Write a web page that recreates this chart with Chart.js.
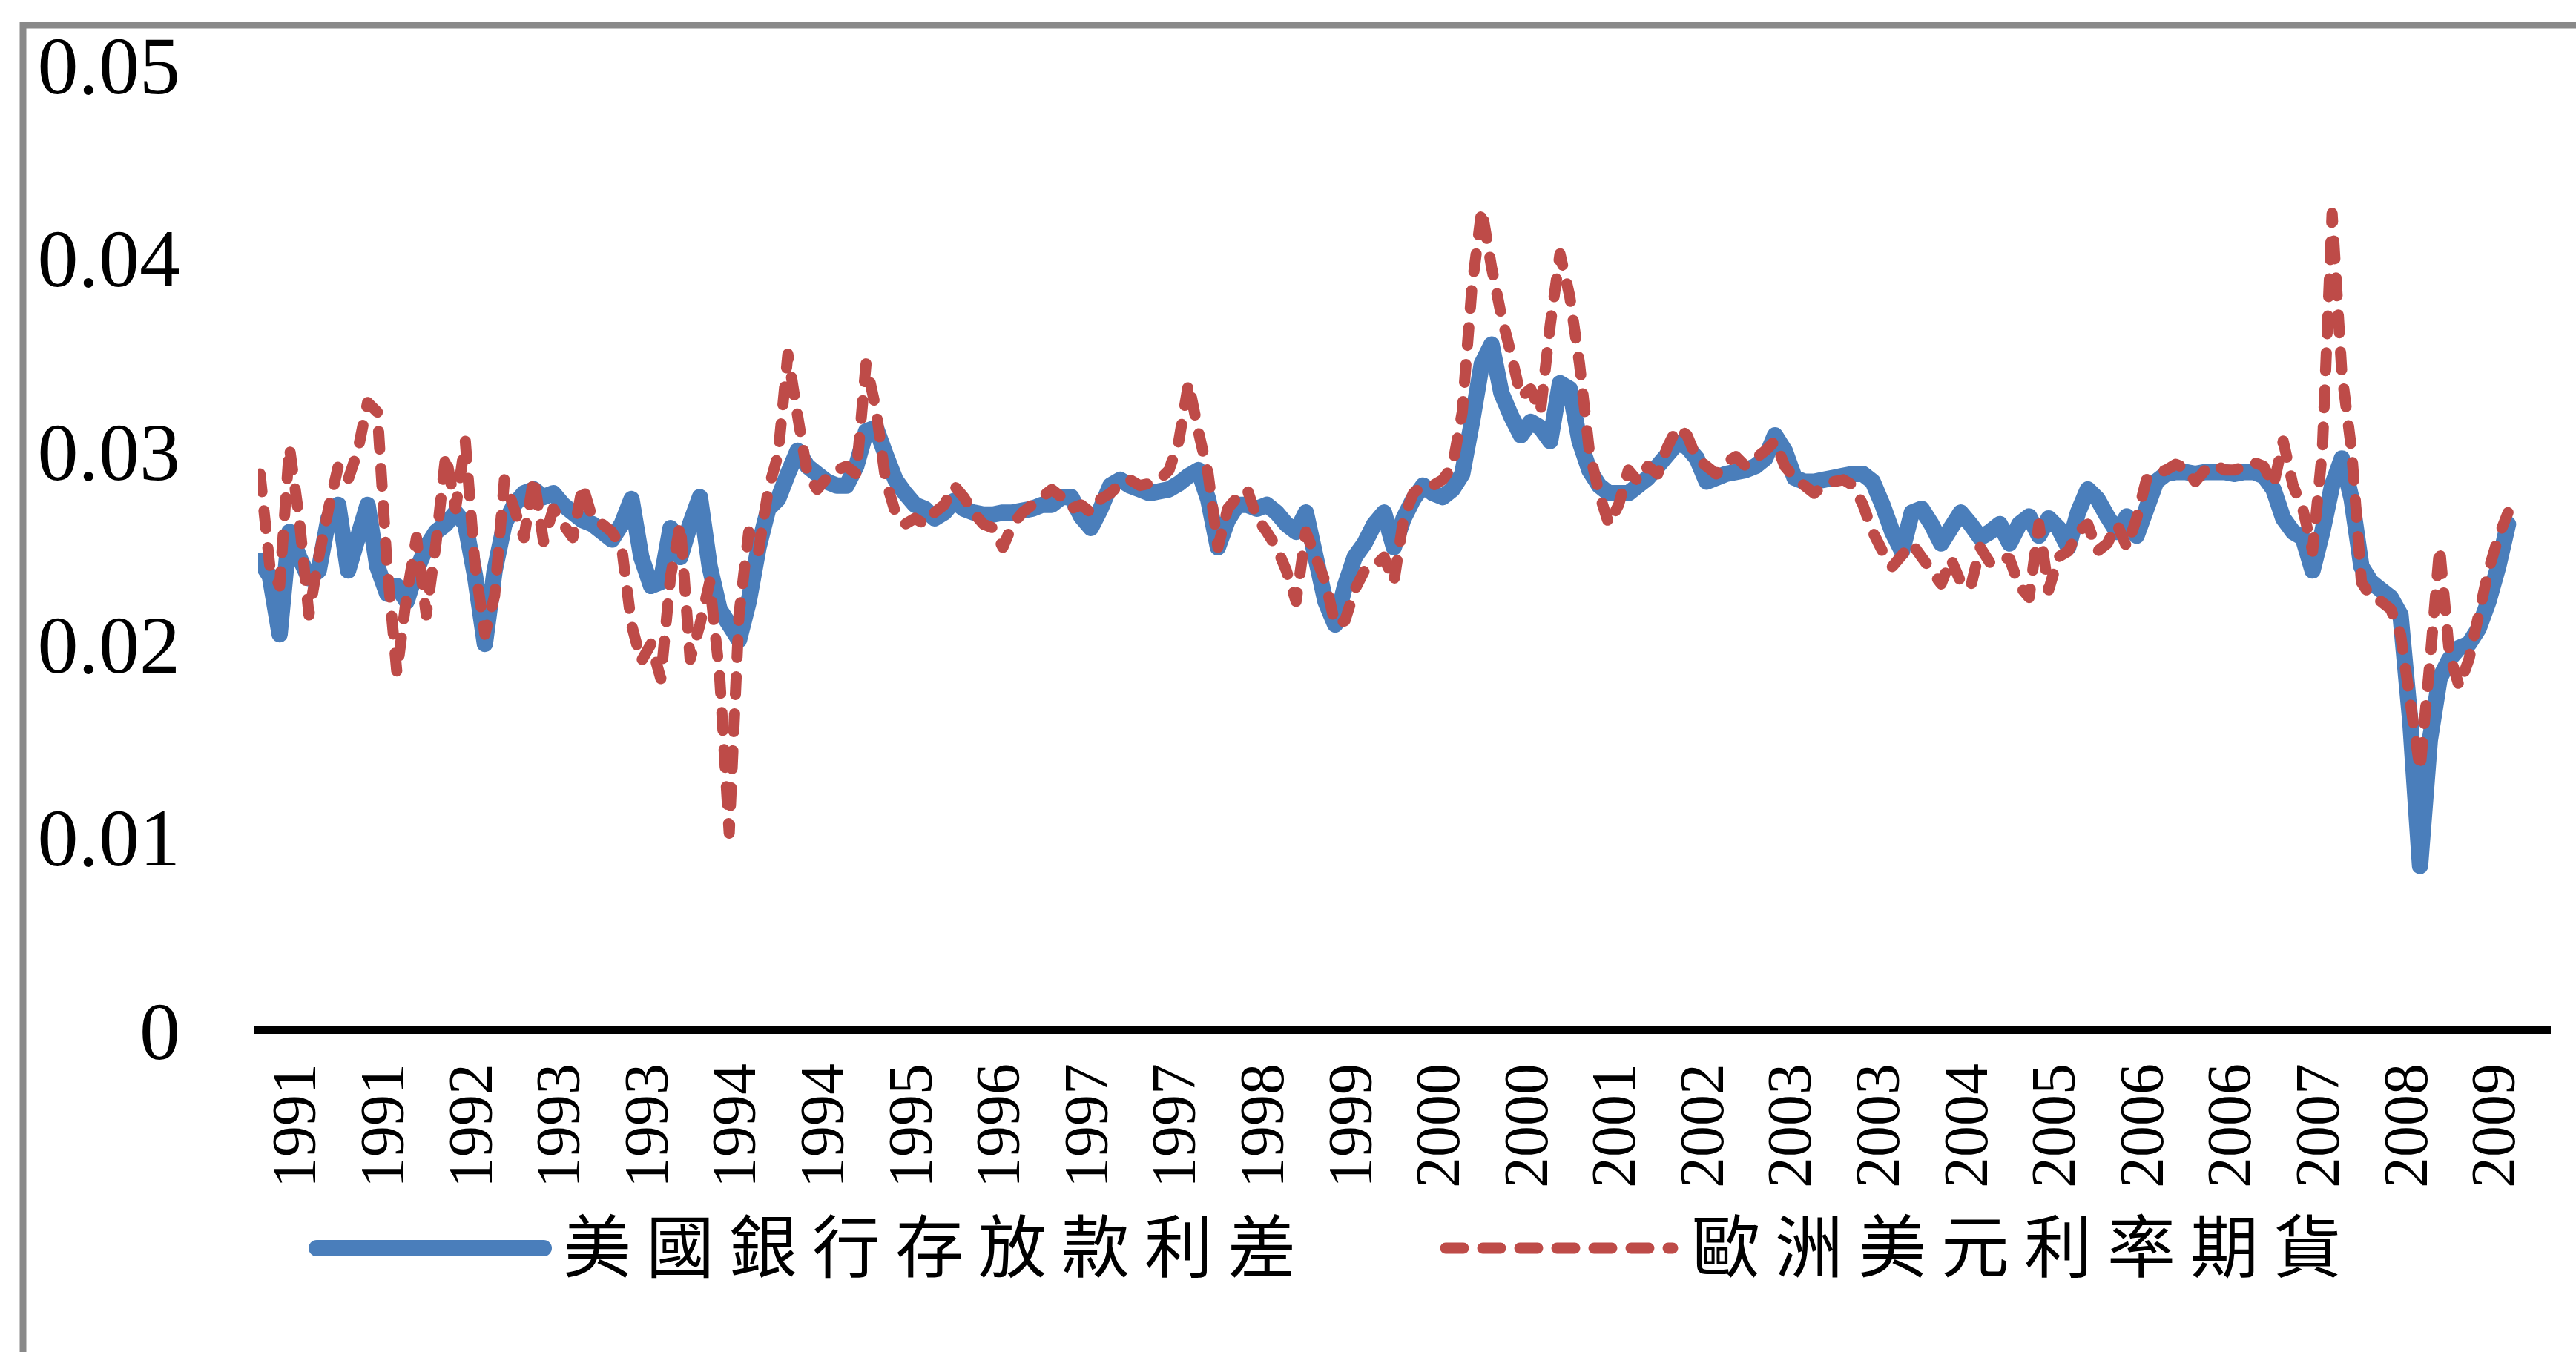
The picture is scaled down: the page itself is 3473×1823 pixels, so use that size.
<!DOCTYPE html>
<html>
<head>
<meta charset="utf-8">
<script src="https://cdn.jsdelivr.net/npm/chart.js@4.4.1/dist/chart.umd.min.js"></script>
<style>
  html, body { margin: 0; padding: 0; background: #fff; overflow: hidden; }
  canvas { display: block; }
</style>
</head>
<body>
<canvas id="spreadChart" width="3473" height="1823"></canvas>
<script>
// ─── DATA ────────────────────────────────────────────────
const seriesNames = ['美國銀行存放款利差', '歐洲美元利率期貨'];

// monthly, 1991 – mid 2009
const spreadValues = [
  0.0243,0.0235,0.0205,0.0258,0.0245,0.0234,0.0238,0.0265,0.0272,0.0238,
  0.0255,0.0272,0.0240,0.0226,0.0230,0.0222,0.0238,0.0250,0.0258,0.0262,
  0.0268,0.0262,0.0235,0.0200,0.0238,0.0262,0.0272,0.0278,0.0280,0.0276,
  0.0278,0.0272,0.0268,0.0264,0.0262,0.0258,0.0254,0.0262,0.0275,0.0245,
  0.0230,0.0232,0.0260,0.0245,0.0262,0.0276,0.0240,0.0218,0.0210,0.0202,
  0.0222,0.0250,0.0270,0.0275,0.0288,0.0300,0.0292,0.0288,0.0284,0.0282,
  0.0282,0.0292,0.0310,0.0312,0.0298,0.0285,0.0278,0.0272,0.0270,0.0265,
  0.0268,0.0274,0.0270,0.0268,0.0267,0.0267,0.0268,0.0268,0.0269,0.0270,
  0.0272,0.0272,0.0276,0.0276,0.0266,0.0260,0.0270,0.0282,0.0285,0.0282,
  0.0280,0.0278,0.0279,0.0280,0.0283,0.0287,0.0290,0.0275,0.0250,0.0264,
  0.0272,0.0272,0.0270,0.0272,0.0268,0.0262,0.0258,0.0268,0.0245,0.0222,
  0.0210,0.0230,0.0245,0.0252,0.0262,0.0268,0.0250,0.0265,0.0275,0.0282,
  0.0278,0.0276,0.0280,0.0288,0.0315,0.0345,0.0355,0.0330,0.0318,0.0308,
  0.0315,0.0312,0.0305,0.0335,0.0332,0.0305,0.0290,0.0282,0.0278,0.0278,
  0.0278,0.0282,0.0286,0.0292,0.0298,0.0304,0.0302,0.0296,0.0284,0.0286,
  0.0288,0.0289,0.0290,0.0292,0.0296,0.0308,0.0300,0.0286,0.0284,0.0284,
  0.0285,0.0286,0.0287,0.0288,0.0288,0.0284,0.0272,0.0258,0.0248,0.0268,
  0.0270,0.0262,0.0252,0.0260,0.0268,0.0262,0.0255,0.0258,0.0262,0.0252,
  0.0262,0.0266,0.0256,0.0265,0.0260,0.0250,0.0268,0.0280,0.0275,0.0266,
  0.0258,0.0266,0.0256,0.0270,0.0284,0.0288,0.0289,0.0289,0.0288,0.0289,
  0.0289,0.0289,0.0288,0.0289,0.0289,0.0287,0.0280,0.0265,0.0258,0.0255,
  0.0238,0.0258,0.0282,0.0296,0.0275,0.0240,0.0232,0.0228,0.0224,0.0215,
  0.0160,0.0085,0.0150,0.0182,0.0192,0.0198,0.0200,0.0208,0.0222,0.0240,
  0.0262
];

const futuresValues = [
  0.0288,0.0240,0.0230,0.0302,0.0265,0.0215,0.0245,0.0270,0.0292,0.0285,
  0.0300,0.0325,0.0320,0.0240,0.0185,0.0225,0.0255,0.0215,0.0252,0.0298,
  0.0270,0.0305,0.0240,0.0205,0.0225,0.0285,0.0270,0.0255,0.0286,0.0253,
  0.0270,0.0262,0.0255,0.0282,0.0265,0.0262,0.0258,0.0250,0.0210,0.0191,
  0.0200,0.0182,0.0235,0.0262,0.0192,0.0210,0.0232,0.0185,0.0102,0.0215,
  0.0258,0.0248,0.0280,0.0298,0.0350,0.0318,0.0288,0.0280,0.0286,0.0290,
  0.0292,0.0288,0.0345,0.0322,0.0285,0.0268,0.0262,0.0265,0.0262,0.0268,
  0.0272,0.0282,0.0276,0.0268,0.0262,0.0260,0.0250,0.0262,0.0268,0.0272,
  0.0276,0.0280,0.0276,0.0270,0.0272,0.0268,0.0275,0.0278,0.0283,0.0285,
  0.0282,0.0283,0.0285,0.0290,0.0305,0.0335,0.0310,0.0288,0.0250,0.0270,
  0.0276,0.0280,0.0265,0.0258,0.0250,0.0238,0.0222,0.0258,0.0245,0.0232,
  0.0210,0.0212,0.0228,0.0238,0.0240,0.0245,0.0232,0.0265,0.0278,0.0282,
  0.0282,0.0285,0.0292,0.0320,0.0385,0.0425,0.0395,0.0370,0.0350,0.0328,
  0.0332,0.0320,0.0365,0.0402,0.0380,0.0345,0.0300,0.0278,0.0262,0.0272,
  0.0290,0.0284,0.0292,0.0288,0.0302,0.0312,0.0308,0.0296,0.0292,0.0288,
  0.0294,0.0297,0.0292,0.0296,0.0300,0.0305,0.0292,0.0286,0.0282,0.0278,
  0.0282,0.0284,0.0285,0.0282,0.0272,0.0258,0.0248,0.0240,0.0246,0.0252,
  0.0245,0.0238,0.0231,0.0244,0.0232,0.0229,0.0250,0.0242,0.0245,0.0244,
  0.0230,0.0224,0.0262,0.0228,0.0245,0.0248,0.0258,0.0262,0.0248,0.0252,
  0.0262,0.0250,0.0265,0.0285,0.0288,0.0290,0.0293,0.0291,0.0284,0.0290,
  0.0293,0.0290,0.0290,0.0292,0.0294,0.0292,0.0282,0.0305,0.0282,0.0270,
  0.0248,0.0300,0.0423,0.0340,0.0300,0.0232,0.0224,0.0222,0.0218,0.0205,
  0.0170,0.0135,0.0190,0.0250,0.0195,0.0178,0.0192,0.0215,0.0238,0.0255,
  0.0268
];

// one year label every 9th observation
const yearLabels = [
  '1991','1991','1992','1993','1993','1994','1994','1995','1996','1997',
  '1997','1998','1999','2000','2000','2001','2002','2003','2003','2004',
  '2005','2006','2006','2007','2008','2009'
];
const firstLabelIndex = 4;
const labelStep = 9;

const yTicks = [0, 0.01, 0.02, 0.03, 0.04, 0.05];

// ─── PLUGINS ─────────────────────────────────────────────
const frame = {
  id: 'frame',
  beforeDraw(chart) {
    const { ctx, width, height } = chart;
    ctx.save();
    ctx.fillStyle = '#fff';
    ctx.fillRect(0, 0, width, height);
    ctx.strokeStyle = '#898989';
    ctx.lineWidth = 9;
    ctx.strokeRect(31, 34, width + 100, height + 100);
    ctx.restore();
  }
};

// legend drawn as a line sample + spaced label, like the office chart
const lineLegend = {
  id: 'lineLegend',
  afterDraw(chart, args, opts) {
    const { ctx } = chart;
    chart.data.datasets.forEach((ds, k) => {
      const x0 = opts.starts[k];
      const x1 = x0 + opts.lineLength;
      ctx.save();
      ctx.strokeStyle = ds.borderColor;
      ctx.lineWidth = ds.borderWidth;
      ctx.lineCap = ds.borderCapStyle || 'butt';
      ctx.setLineDash(ds.borderDash || []);
      ctx.beginPath();
      ctx.moveTo(x0, opts.y);
      ctx.lineTo(x1, opts.y);
      ctx.stroke();
      ctx.setLineDash([]);
      ctx.fillStyle = '#000';
      ctx.font = opts.font;
      ctx.letterSpacing = opts.letterSpacing;
      ctx.textBaseline = 'middle';
      ctx.textAlign = 'left';
      ctx.fillText(ds.label, x1 + opts.textGap, opts.y - 3);
      ctx.restore();
    });
  }
};

// ─── CHART ───────────────────────────────────────────────
const toPoints = values => values.map((v, i) => ({ x: i, y: v }));

new Chart(document.getElementById('spreadChart'), {
  type: 'line',
  data: {
    datasets: [
      {
        label: seriesNames[0],
        data: toPoints(spreadValues),
        borderColor: '#4A7EBB',
        borderWidth: 22,
        borderCapStyle: 'round',
        borderJoinStyle: 'round',
        pointRadius: 0,
        tension: 0,
        order: 1
      },
      {
        label: seriesNames[1],
        data: toPoints(futuresValues),
        borderColor: '#BE4B48',
        borderWidth: 15,
        borderDash: [24, 26],
        borderCapStyle: 'round',
        borderJoinStyle: 'round',
        pointRadius: 0,
        tension: 0,
        order: 0
      }
    ]
  },
  options: {
    responsive: false,
    animation: false,
    devicePixelRatio: 1,
    layout: { padding: { top: 87, right: 35, bottom: 204, left: 0 } },
    plugins: {
      legend: { display: false },
      tooltip: { enabled: false },
      lineLegend: {
        starts: [427, 1949],
        lineLength: 306,
        textGap: 26,
        y: 1683,
        font: "92px 'Noto Sans CJK TC'",
        letterSpacing: '20px'
      }
    },
    scales: {
      x: {
        type: 'linear',
        min: -0.2,
        max: 234.3,
        grid: { display: false, drawTicks: false },
        border: { display: true, color: '#000', width: 10 },
        afterBuildTicks: scale => {
          scale.ticks = yearLabels.map((_, j) => ({ value: firstLabelIndex + j * labelStep }));
        },
        afterFit: scale => {
          scale.height = 230;
          scale.paddingLeft = 0;
          scale.paddingRight = 0;
        },
        ticks: {
          autoSkip: false,
          minRotation: 90,
          maxRotation: 90,
          padding: 45,
          color: '#000',
          font: { family: "'Liberation Serif', serif", size: 84 },
          callback: (value, index) => yearLabels[index]
        }
      },
      y: {
        min: 0,
        max: 0.05,
        grid: { display: false, drawTicks: false },
        border: { display: false },
        afterBuildTicks: scale => {
          scale.ticks = yTicks.map(v => ({ value: v }));
        },
        afterFit: scale => {
          scale.width = 348;
          scale.paddingTop = 0;
          scale.paddingBottom = 0;
        },
        ticks: {
          padding: 105,
          labelOffset: 10,
          color: '#000',
          font: { family: "'Liberation Serif', serif", size: 110 },
          callback: value => (value === 0 ? '0' : value.toFixed(2))
        }
      }
    }
  },
  plugins: [frame, lineLegend]
});
</script>
</body>
</html>
